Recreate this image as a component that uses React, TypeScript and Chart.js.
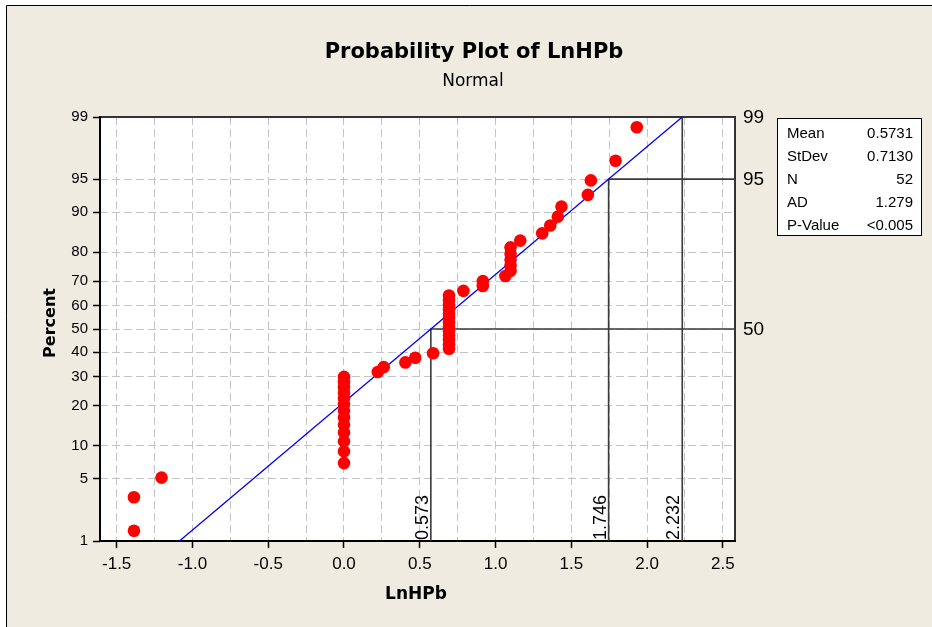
import React, { useEffect, useRef } from 'react';
import { Chart, registerables } from 'chart.js';

Chart.register(...registerables);

// ---------------- data ----------------
// Sorted LnHPb observations (N = 52)
const LN_HPB = [
  -1.386, -1.386, -1.204,
  0, 0, 0, 0, 0, 0, 0, 0, 0, 0, 0, 0, 0,
  0.223, 0.262, 0.405, 0.470, 0.588,
  0.693, 0.693, 0.693, 0.693, 0.693, 0.693, 0.693, 0.693, 0.693, 0.693, 0.693, 0.693, 0.693,
  0.788, 0.916, 0.916, 1.065,
  1.099, 1.099, 1.099, 1.099, 1.099,
  1.163, 1.308, 1.361, 1.411, 1.435, 1.609, 1.629, 1.792, 1.932,
];
// Plotting positions (percent) of each sorted observation
const PERCENT = [
  1.34, 3.24, 5.15, 7.06, 8.97, 10.88, 12.79, 14.69, 16.60, 18.51,
  20.42, 22.33, 24.24, 26.15, 28.05, 29.96, 31.87, 33.78, 35.69, 37.60,
  39.50, 41.41, 43.32, 45.23, 47.14, 49.05, 50.95, 52.86, 54.77, 56.68,
  58.59, 60.50, 62.40, 64.31, 66.22, 68.13, 70.04, 71.95, 73.85, 75.76,
  77.67, 79.58, 81.49, 83.40, 85.31, 87.21, 89.12, 91.03, 92.94, 94.85,
  96.76, 98.66,
];
const MEAN = 0.5731;
const STDEV = 0.713;
const PCT_TICKS = [1, 5, 10, 20, 30, 40, 50, 60, 70, 80, 90, 95, 99];
const X_TICK_LABELS = [-1.5, -1.0, -0.5, 0.0, 0.5, 1.0, 1.5, 2.0, 2.5];
const X_GRID_STEP = 0.25;
const X_MIN = -1.61;
const X_MAX = 2.58;
const REF_PERCENTS = [50, 95, 99];
const REF_VALUES = [0.573, 1.746, 2.232];
const STAT_LABELS = ['Mean', 'StDev', 'N', 'AD', 'P-Value'];
const STAT_VALUES = ['0.5731', '0.7130', '52', '1.279', '<0.005'];
const TITLE = 'Probability Plot of LnHPb';
const SUBTITLE = 'Normal';
const X_TITLE = 'LnHPb';
const Y_TITLE = 'Percent';

// ---------------- helpers ----------------
function qnorm(p: number): number {
  const a = [-3.969683028665376e1, 2.209460984245205e2, -2.759285104469687e2, 1.38357751867269e2, -3.066479806614716e1, 2.506628277459239];
  const b = [-5.447609879822406e1, 1.615858368580409e2, -1.556989798598866e2, 6.680131188771972e1, -1.328068155288572e1];
  const c = [-7.784894002430293e-3, -3.223964580411365e-1, -2.400758277161838, -2.549732539343734, 4.374664141464968, 2.938163982698783];
  const d = [7.784695709041462e-3, 3.224671290700398e-1, 2.445134137142996, 3.754408661907416];
  const pl = 0.02425;
  let q: number, r: number;
  if (p < pl) {
    q = Math.sqrt(-2 * Math.log(p));
    return (((((c[0] * q + c[1]) * q + c[2]) * q + c[3]) * q + c[4]) * q + c[5]) / ((((d[0] * q + d[1]) * q + d[2]) * q + d[3]) * q + 1);
  }
  if (p <= 1 - pl) {
    q = p - 0.5;
    r = q * q;
    return ((((((a[0] * r + a[1]) * r + a[2]) * r + a[3]) * r + a[4]) * r + a[5]) * q) / (((((b[0] * r + b[1]) * r + b[2]) * r + b[3]) * r + b[4]) * r + 1);
  }
  q = Math.sqrt(-2 * Math.log(1 - p));
  return -(((((c[0] * q + c[1]) * q + c[2]) * q + c[3]) * q + c[4]) * q + c[5]) / ((((d[0] * q + d[1]) * q + d[2]) * q + d[3]) * q + 1);
}

const Z_MIN = qnorm(PCT_TICKS[0] / 100);
const Z_MAX = qnorm(PCT_TICKS[PCT_TICKS.length - 1] / 100);

const SANS = "'Liberation Sans', Arial, sans-serif";
const DEJAVU = "'DejaVu Sans', Verdana, sans-serif";
const BG = '#EFEBE1';

const isMajorX = (v: number) => X_TICK_LABELS.some((t) => Math.abs(t - v) < 1e-9);

const decoPlugin = {
  id: 'deco',
  beforeDraw(chart: any) {
    const { ctx, chartArea: a, width, height } = chart;
    ctx.save();
    ctx.fillStyle = '#ffffff';
    ctx.fillRect(0, 0, width, height);
    ctx.fillStyle = BG;
    ctx.fillRect(6, 5, width - 6, height - 5);
    ctx.strokeStyle = '#000';
    ctx.lineWidth = 1;
    ctx.beginPath();
    ctx.moveTo(6.5, height);
    ctx.lineTo(6.5, 5.5);
    ctx.lineTo(width, 5.5);
    ctx.stroke();
    ctx.fillStyle = '#ffffff';
    ctx.fillRect(a.left, a.top, a.right - a.left, a.bottom - a.top);
    ctx.restore();
  },
  beforeDatasetsDraw(chart: any) {
    const { ctx, chartArea: a } = chart;
    ctx.save();
    ctx.lineWidth = 2;
    ctx.strokeStyle = '#333';
    ctx.beginPath();
    ctx.moveTo(a.left, a.top);
    ctx.lineTo(a.right, a.top);
    ctx.lineTo(a.right, a.bottom);
    ctx.stroke();
    ctx.strokeStyle = '#000';
    ctx.beginPath();
    ctx.moveTo(a.left, a.top - 1);
    ctx.lineTo(a.left, a.bottom);
    ctx.lineTo(a.right + 1, a.bottom);
    ctx.stroke();
    ctx.restore();
  },
  afterDraw(chart: any) {
    const { ctx, chartArea: a } = chart;
    const xs = chart.scales.x;
    const ys = chart.scales.y;
    ctx.save();
    ctx.fillStyle = '#000';
    // titles
    ctx.textAlign = 'center';
    ctx.textBaseline = 'alphabetic';
    ctx.font = `bold 21px ${DEJAVU}`;
    ctx.fillText(TITLE, 474, 58);
    ctx.font = `17px ${DEJAVU}`;
    ctx.fillText(SUBTITLE, 473, 86);
    ctx.font = `bold 17px ${DEJAVU}`;
    ctx.fillText(X_TITLE, 416, 599);
    ctx.save();
    ctx.translate(55, 323);
    ctx.rotate(-Math.PI / 2);
    ctx.font = `bold 16px ${DEJAVU}`;
    ctx.fillText(Y_TITLE, 0, 0);
    ctx.restore();

    // right-hand percent labels and rotated reference values
    REF_PERCENTS.forEach((p, i) => {
      const py = ys.getPixelForValue(qnorm(p / 100));
      ctx.textAlign = 'left';
      ctx.textBaseline = 'middle';
      ctx.font = `19px ${SANS}`;
      ctx.fillText(String(p), 743, py + 1);
      const px = xs.getPixelForValue(REF_VALUES[i]);
      ctx.save();
      ctx.translate(px - 3, a.bottom - 1);
      ctx.rotate(-Math.PI / 2);
      ctx.textAlign = 'left';
      ctx.textBaseline = 'alphabetic';
      ctx.font = `18px ${SANS}`;
      ctx.fillText(REF_VALUES[i].toFixed(3), 0, 0);
      ctx.restore();
    });

    // stats box
    const bx = 777.5, by = 118.5, bw = 144, bh = 117;
    ctx.fillStyle = '#fff';
    ctx.fillRect(bx, by, bw, bh);
    ctx.strokeStyle = '#000';
    ctx.lineWidth = 1;
    ctx.strokeRect(bx, by, bw, bh);
    ctx.fillStyle = '#000';
    ctx.font = `15px ${SANS}`;
    ctx.textBaseline = 'middle';
    STAT_LABELS.forEach((lab, i) => {
      const y = 134 + i * 23;
      ctx.textAlign = 'left';
      ctx.fillText(lab, 787, y);
      ctx.textAlign = 'right';
      ctx.fillText(STAT_VALUES[i], 913, y);
    });
    ctx.restore();
  },
};

export default function App() {
  const canvasRef = useRef<HTMLCanvasElement | null>(null);

  useEffect(() => {
    document.body.style.margin = '0';
    const canvas = canvasRef.current;
    if (!canvas) return;

    const points = LN_HPB.map((v, i) => ({ x: v, y: qnorm(PERCENT[i] / 100) }));
    const fitLine = [
      { x: MEAN + STDEV * Z_MIN, y: Z_MIN },
      { x: MEAN + STDEV * Z_MAX, y: Z_MAX },
    ];
    const refSets = REF_PERCENTS.map((p, i) => {
      const z = qnorm(p / 100);
      return {
        data: [
          { x: REF_VALUES[i], y: Z_MIN },
          { x: REF_VALUES[i], y: z },
          { x: X_MAX, y: z },
        ],
        showLine: true,
        borderColor: '#3a3a3a',
        borderWidth: 1.6,
        pointRadius: 0,
        fill: false,
        order: 3,
      };
    });

    const chart = new Chart(canvas, {
      type: 'scatter',
      data: {
        datasets: [
          {
            data: points,
            backgroundColor: '#FF0000',
            borderColor: '#FF0000',
            borderWidth: 0,
            pointRadius: 6.3,
            order: 0,
          },
          {
            data: fitLine,
            showLine: true,
            borderColor: '#0000FF',
            borderWidth: 1.3,
            pointRadius: 0,
            fill: false,
            order: 1,
          },
          ...refSets,
        ] as any,
      },
      options: {
        animation: false,
        responsive: false,
        events: [],
        layout: { padding: { left: 0, top: 117, right: 197, bottom: 0 }, autoPadding: false },
        plugins: { legend: { display: false }, tooltip: { enabled: false }, title: { display: false } },
        scales: {
          x: {
            type: 'linear',
            min: X_MIN,
            max: X_MAX,
            afterBuildTicks: (s: any) => {
              const ticks: any[] = [];
              const first = X_TICK_LABELS[0];
              const last = X_TICK_LABELS[X_TICK_LABELS.length - 1];
              const n = Math.round((last - first) / X_GRID_STEP);
              for (let k = 0; k <= n; k++) ticks.push({ value: first + k * X_GRID_STEP });
              s.ticks = ticks;
            },
            afterFit: (s: any) => {
              s.height = 86;
            },
            ticks: {
              autoSkip: false,
              maxRotation: 0,
              minRotation: 0,
              padding: 6,
              color: '#000',
              font: { family: SANS, size: 17 },
              callback: (v: any) => (isMajorX(Number(v)) ? Number(v).toFixed(1) : ''),
            },
            grid: {
              color: '#C4C4C4',
              lineWidth: 1,
              tickLength: 7,
              tickWidth: 1.5,
              tickColor: (c: any) => (c.tick && isMajorX(c.tick.value) ? '#000' : 'rgba(0,0,0,0)'),
            },
            border: { display: false, dash: [8, 4] },
          },
          y: {
            type: 'linear',
            min: Z_MIN,
            max: Z_MAX,
            afterBuildTicks: (s: any) => {
              s.ticks = PCT_TICKS.map((p) => ({ value: qnorm(p / 100) }));
            },
            afterFit: (s: any) => {
              s.width = 100;
            },
            ticks: {
              autoSkip: false,
              padding: 5,
              color: '#000',
              font: { family: SANS, size: 15 },
              callback: (_v: any, i: number) => String(PCT_TICKS[i]),
            },
            grid: {
              color: '#C4C4C4',
              lineWidth: 1,
              tickLength: 7,
              tickWidth: 1.5,
              tickColor: '#000',
            },
            border: { display: false, dash: [8, 4] },
          },
        },
      },
      plugins: [decoPlugin],
    } as any);

    return () => chart.destroy();
  }, []);

  return (
    <div style={{ width: 932, height: 627, position: 'relative' }}>
      <canvas ref={canvasRef} width={932} height={627} style={{ display: 'block' }} />
    </div>
  );
}
